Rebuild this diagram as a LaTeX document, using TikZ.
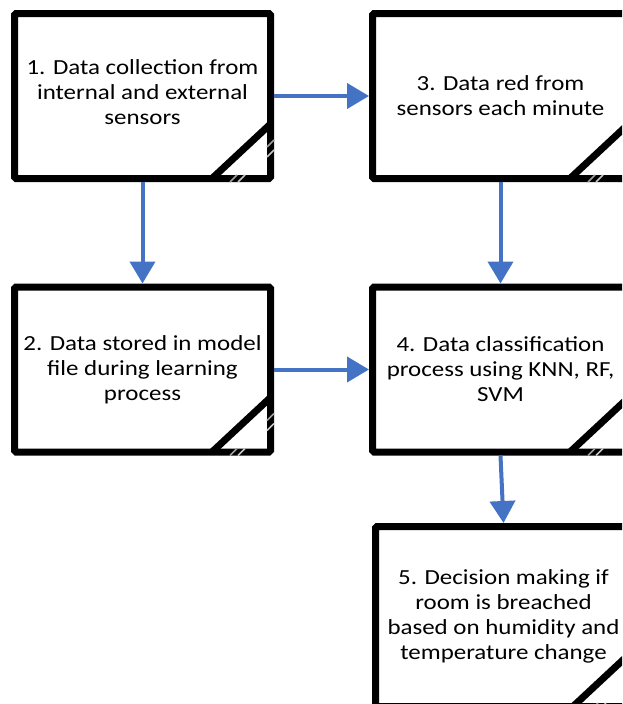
\documentclass[tikz,border=0pt]{standalone}
\usepackage{fontspec}
\setmainfont[FakeStretch=1.16]{Carlito}
\usetikzlibrary{arrows.meta,calc}
\definecolor{arrowblue}{HTML}{4472C4}
\begin{document}
\begin{tikzpicture}[x=1pt,y=-1pt,
  boxtext/.style={inner sep=0pt, align=center, font=\fontsize{21.5}{25}\selectfont},
  procbox/.style={boxtext, draw=black, line width=7pt, rounded corners=1.5pt, minimum width=256pt,
    minimum height=165pt, fill=white},
  flow/.style={draw=arrowblue, line width=4pt, -{Triangle[width=25pt,length=22pt]}},
  cornerline/.style={draw=black, line width=7pt},
  stripe/.style={draw=gray!75, line width=1.6pt}]
\path[use as bounding box, clip] (0,0) rectangle (622,704);

\node[procbox] (b1) at (142.5,96) {};
\node[boxtext] (t1) at ($(b1.center)+(0,-4)$) {1. Data collection from\\internal and external\\sensors};
\node[procbox] (b3) at (500.5,96) {3. Data red from\\sensors each minute};
\node[procbox] (b2) at (142.5,369.5) {2. Data stored in model\\file during learning\\process};
\node[procbox] (b4) at (500.5,369.5) {4. Data classification\\process using KNN, RF,\\SVM};
\node[procbox, minimum height=180pt] (b5) at (503.5,616.5) {5. Decision making if\\room is breached\\based on humidity and\\temperature change};

\foreach \b in {b1,b2,b3,b4,b5}{
  \draw[cornerline] ($(\b.south east)+(-62,-3.5)$) -- ($(\b.south east)+(-3.5,-58)$);
  \draw[stripe] ($(\b.south east)+(-44,0)$) -- ++(7,-7);
  \draw[stripe, gray!45] ($(\b.south east)+(-36,0)$) -- ++(7,-7);
  \draw[stripe] ($(\b.south east)+(0,-42)$) -- ++(-7,7);
  \draw[stripe, gray!45] ($(\b.south east)+(0,-32)$) -- ++(-7,7);
}

\draw[flow] (b1.east) -- (b3.west);
\draw[flow] (b1.south) -- (b2.north);
\draw[flow] (b3.south) -- (b4.north);
\draw[flow] (b2.east) -- (b4.west);
\draw[flow] (b4.south) -- (b5.north);
\end{tikzpicture}
\end{document}
